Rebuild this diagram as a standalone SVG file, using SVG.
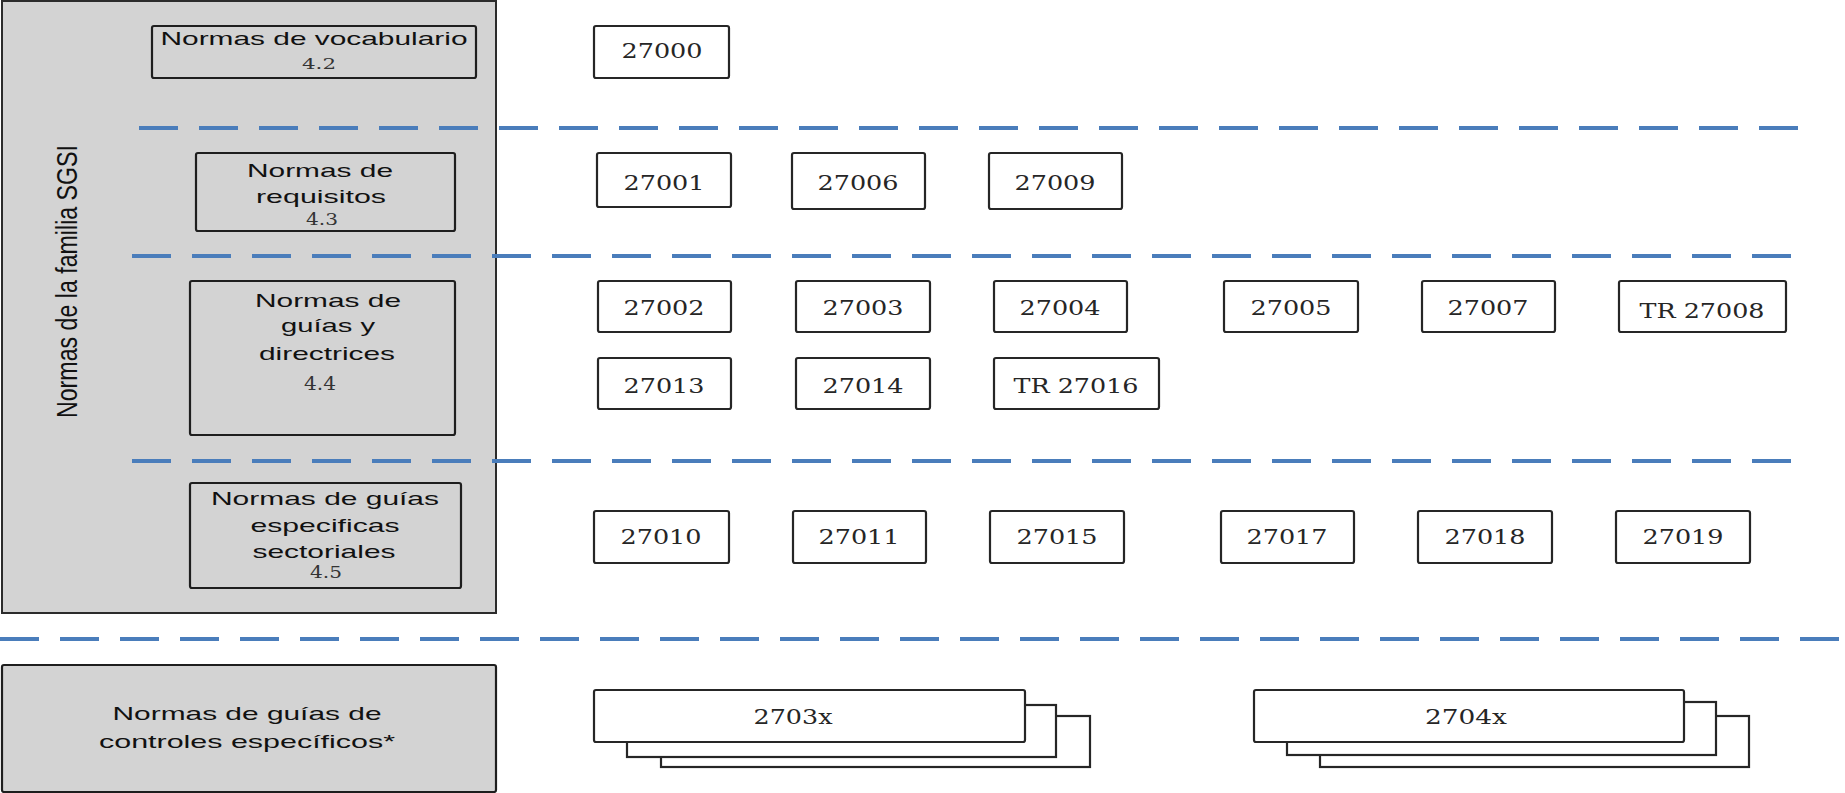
<svg xmlns="http://www.w3.org/2000/svg" width="1845" height="793" viewBox="0 0 1845 793">
<style>
.panel{fill:#d3d3d3;stroke:#2b2b2b;stroke-width:2}
.cat{fill:#d3d3d3;stroke:#1e1e1e;stroke-width:2.2}
.box{fill:#fff;stroke:#262626;stroke-width:2.2}
.lbl{font-family:"Liberation Sans",Arial,sans-serif;font-size:18.5px;fill:#111;text-anchor:middle}
.sec{font-family:"DejaVu Serif","Liberation Serif",serif;font-size:15px;fill:#333;text-anchor:middle}
.num{font-family:"DejaVu Serif","Liberation Serif",serif;font-size:20px;fill:#262626;text-anchor:middle}
.dash{stroke:#4a7dbb;stroke-width:4;stroke-dasharray:39 21;fill:none}
</style>
<rect width="1845" height="793" fill="#fff"/>
<g id="familia">
<rect class="panel" x="2" y="1" width="494" height="612"/>
<text class="lbl" transform="translate(77,281.5) scale(1.6,1) rotate(-90)" x="0" y="0" textLength="273" lengthAdjust="spacingAndGlyphs" style="font-size:19px">Normas de la familia SGSI</text>
</g>
<g id="separadores">
<line class="dash" x1="139" y1="128" x2="1806" y2="128"/>
<line class="dash" x1="132" y1="256" x2="1800" y2="256"/>
<line class="dash" x1="132" y1="461" x2="1800" y2="461"/>
<line class="dash" x1="0" y1="639" x2="1845" y2="639"/>
</g>
<g id="vocabulario">
<rect class="cat" x="152" y="26" width="324" height="52" rx="2"/>
<text class="lbl" x="314" y="45" textLength="307" lengthAdjust="spacingAndGlyphs">Normas de vocabulario</text>
<text class="sec" x="319" y="69" textLength="34" lengthAdjust="spacingAndGlyphs">4.2</text>
</g>
<g id="requisitos">
<rect class="cat" x="196" y="153" width="259" height="78" rx="2"/>
<text class="lbl" x="320" y="177" textLength="146" lengthAdjust="spacingAndGlyphs">Normas de</text>
<text class="lbl" x="321" y="203" textLength="130" lengthAdjust="spacingAndGlyphs">requisitos</text>
<text class="sec" x="322" y="225" textLength="32" lengthAdjust="spacingAndGlyphs" style="font-size:16px">4.3</text>
</g>
<g id="guias">
<rect class="cat" x="190" y="281" width="265" height="154" rx="2"/>
<text class="lbl" x="328" y="307" textLength="146" lengthAdjust="spacingAndGlyphs">Normas de</text>
<text class="lbl" x="328" y="332" textLength="94" lengthAdjust="spacingAndGlyphs">guías y</text>
<text class="lbl" x="327" y="360" textLength="136" lengthAdjust="spacingAndGlyphs">directrices</text>
<text class="sec" x="320" y="390" textLength="32" lengthAdjust="spacingAndGlyphs" style="font-size:18px">4.4</text>
</g>
<g id="sectoriales">
<rect class="cat" x="190" y="483" width="271" height="105" rx="2"/>
<text class="lbl" x="325" y="505" textLength="228" lengthAdjust="spacingAndGlyphs">Normas de guías</text>
<text class="lbl" x="325" y="532" textLength="149" lengthAdjust="spacingAndGlyphs">especificas</text>
<text class="lbl" x="324" y="558" textLength="143" lengthAdjust="spacingAndGlyphs">sectoriales</text>
<text class="sec" x="326" y="578" textLength="32" lengthAdjust="spacingAndGlyphs" style="font-size:16px">4.5</text>
</g>
<g id="controles">
<rect class="cat" x="2" y="665" width="494" height="127" rx="2"/>
<text class="lbl" x="247" y="720" textLength="269" lengthAdjust="spacingAndGlyphs">Normas de guías de</text>
<text class="lbl" x="247" y="748" textLength="296" lengthAdjust="spacingAndGlyphs">controles específicos*</text>
</g>
<g id="n27000"><rect class="box" x="594" y="26" width="135" height="52" rx="2"/><text class="num" x="662" y="58" textLength="81" lengthAdjust="spacingAndGlyphs">27000</text></g>
<g id="n27001"><rect class="box" x="597" y="153" width="134" height="54" rx="2"/><text class="num" x="664" y="190" textLength="81" lengthAdjust="spacingAndGlyphs">27001</text></g>
<g id="n27006"><rect class="box" x="792" y="153" width="133" height="56" rx="2"/><text class="num" x="858" y="190" textLength="81" lengthAdjust="spacingAndGlyphs">27006</text></g>
<g id="n27009"><rect class="box" x="989" y="153" width="133" height="56" rx="2"/><text class="num" x="1055" y="190" textLength="81" lengthAdjust="spacingAndGlyphs">27009</text></g>
<g id="n27002"><rect class="box" x="598" y="281" width="133" height="51" rx="2"/><text class="num" x="664" y="315" textLength="81" lengthAdjust="spacingAndGlyphs">27002</text></g>
<g id="n27003"><rect class="box" x="796" y="281" width="134" height="51" rx="2"/><text class="num" x="863" y="315" textLength="81" lengthAdjust="spacingAndGlyphs">27003</text></g>
<g id="n27004"><rect class="box" x="994" y="281" width="133" height="51" rx="2"/><text class="num" x="1060" y="315" textLength="81" lengthAdjust="spacingAndGlyphs">27004</text></g>
<g id="n27005"><rect class="box" x="1224" y="281" width="134" height="51" rx="2"/><text class="num" x="1291" y="315" textLength="81" lengthAdjust="spacingAndGlyphs">27005</text></g>
<g id="n27007"><rect class="box" x="1422" y="281" width="133" height="51" rx="2"/><text class="num" x="1488" y="315" textLength="81" lengthAdjust="spacingAndGlyphs">27007</text></g>
<g id="nTR27008"><rect class="box" x="1619" y="281" width="167" height="51" rx="2"/><text class="num" x="1702" y="318" textLength="125" lengthAdjust="spacingAndGlyphs">TR 27008</text></g>
<g id="n27013"><rect class="box" x="598" y="358" width="133" height="51" rx="2"/><text class="num" x="664" y="393" textLength="81" lengthAdjust="spacingAndGlyphs">27013</text></g>
<g id="n27014"><rect class="box" x="796" y="358" width="134" height="51" rx="2"/><text class="num" x="863" y="393" textLength="81" lengthAdjust="spacingAndGlyphs">27014</text></g>
<g id="nTR27016"><rect class="box" x="994" y="358" width="165" height="51" rx="2"/><text class="num" x="1076" y="393" textLength="125" lengthAdjust="spacingAndGlyphs">TR 27016</text></g>
<g id="n27010"><rect class="box" x="594" y="511" width="135" height="52" rx="2"/><text class="num" x="661" y="544" textLength="81" lengthAdjust="spacingAndGlyphs">27010</text></g>
<g id="n27011"><rect class="box" x="793" y="511" width="133" height="52" rx="2"/><text class="num" x="859" y="544" textLength="81" lengthAdjust="spacingAndGlyphs">27011</text></g>
<g id="n27015"><rect class="box" x="990" y="511" width="134" height="52" rx="2"/><text class="num" x="1057" y="544" textLength="81" lengthAdjust="spacingAndGlyphs">27015</text></g>
<g id="n27017"><rect class="box" x="1221" y="511" width="133" height="52" rx="2"/><text class="num" x="1287" y="544" textLength="81" lengthAdjust="spacingAndGlyphs">27017</text></g>
<g id="n27018"><rect class="box" x="1418" y="511" width="134" height="52" rx="2"/><text class="num" x="1485" y="544" textLength="81" lengthAdjust="spacingAndGlyphs">27018</text></g>
<g id="n27019"><rect class="box" x="1616" y="511" width="134" height="52" rx="2"/><text class="num" x="1683" y="544" textLength="81" lengthAdjust="spacingAndGlyphs">27019</text></g>
<g id="n2703x">
<rect class="box" x="661" y="716" width="429" height="51"/>
<rect class="box" x="627" y="705" width="429" height="52"/>
<rect class="box" x="594" y="690" width="431" height="52" rx="2"/>
<text class="num" x="793" y="724" textLength="79" lengthAdjust="spacingAndGlyphs">2703x</text>
</g>
<g id="n2704x">
<rect class="box" x="1320" y="716" width="429" height="51"/>
<rect class="box" x="1287" y="702" width="429" height="53"/>
<rect class="box" x="1254" y="690" width="430" height="52" rx="2"/>
<text class="num" x="1466" y="724" textLength="82" lengthAdjust="spacingAndGlyphs">2704x</text>
</g>
</svg>
